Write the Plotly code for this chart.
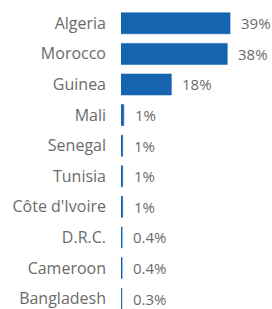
import plotly.graph_objects as go

countries = ["Algeria", "Morocco", "Guinea", "Mali", "Senegal", "Tunisia",
             "Côte d'Ivoire", "D.R.C.", "Cameroon", "Bangladesh"]
values = [39, 38, 18, 1.0, 0.6, 0.6, 0.6, 0.4, 0.4, 0.3]
value_labels = ["39%", "38%", "18%", "1%", "1%", "1%", "1%", "0.4%", "0.4%", "0.3%"]

FONT = "Open Sans"
GRAY = "#6b6b6b"
BLUE = "#1664b0"

fig = go.Figure(go.Bar(
    x=values, y=countries, orientation="h",
    marker=dict(color=BLUE, line=dict(width=0.6, color=BLUE)),
    hoverinfo="skip",
))

for c, v, t in zip(countries, values, value_labels):
    fig.add_annotation(x=v, y=c, xref="x", yref="y", text=t, showarrow=False,
                       xanchor="left", yanchor="middle", xshift=9,
                       font=dict(family=FONT, size=15, color=GRAY))

fig.update_layout(
    width=272, height=309,
    margin=dict(l=121, r=0, t=8, b=0),
    paper_bgcolor="white", plot_bgcolor="white",
    bargap=0.314, showlegend=False, hovermode=False,
    xaxis=dict(range=[0, 54], visible=False, fixedrange=True),
    yaxis=dict(type="category", categoryorder="array", categoryarray=countries,
               range=[9.34, -0.5], showgrid=False, zeroline=False, showline=False,
               ticks="", ticklabelstandoff=14, fixedrange=True,
               tickfont=dict(family=FONT, size=16, color=GRAY)),
)

fig.write_html("out.html", config={"displayModeBar": False, "staticPlot": True},
               post_script="document.body.style.margin='0';document.body.style.overflow='hidden';")
